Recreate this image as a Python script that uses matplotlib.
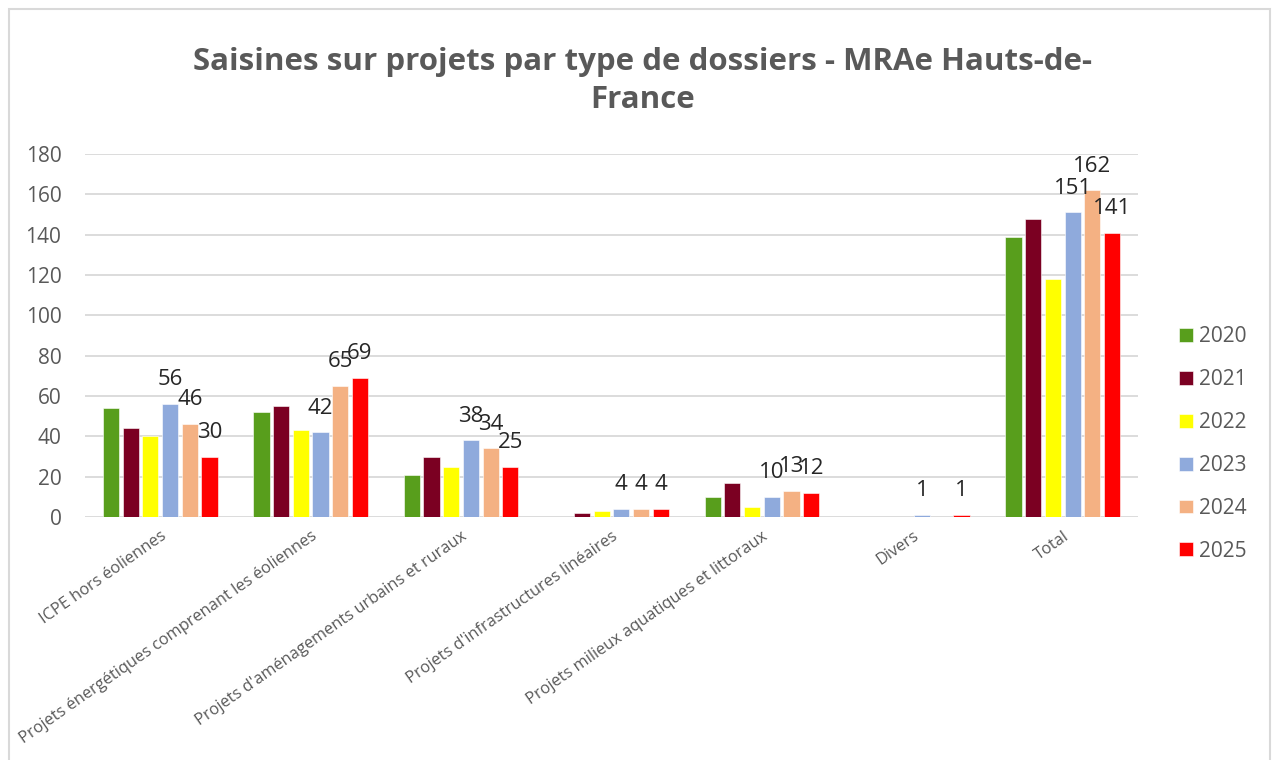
import matplotlib.pyplot as plt
from matplotlib.patches import Rectangle
import numpy as np

plt.rcParams['font.family'] = ['Open Sans', 'DejaVu Sans']

categories = ["ICPE hors éoliennes",
              "Projets énergétiques comprenant les éoliennes",
              "Projets d'aménagements urbains et ruraux",
              "Projets d'infrastructures linéaires",
              "Projets milieux aquatiques et littoraux",
              "Divers",
              "Total"]
years = ["2020", "2021", "2022", "2023", "2024", "2025"]

v2020 = [54, 52, 21, 0, 10, 0, 139]
v2021 = [44, 55, 30, 2, 17, 0, 148]
v2022 = [40, 43, 25, 3, 5, 0, 118]
v2023 = [56, 42, 38, 4, 10, 1, 151]
v2024 = [46, 65, 34, 4, 13, None, 162]
v2025 = [30, 69, 25, 4, 12, 1, 141]
series = [v2020, v2021, v2022, v2023, v2024, v2025]
labelled = ["2023", "2024", "2025"]

colors = ["#589E1C", "#7B0022", "#FFFF00", "#8FAADC", "#F4B183", "#FF0000"]
text_col = "#595959"
grid_col = "#D9D9D9"

fig = plt.figure(figsize=(12.77, 7.6), dpi=100)
fig.patches.append(Rectangle((9 / 1277, -0.05), 1261 / 1277, 1.05 - 9 / 760,
                             transform=fig.transFigure, fill=False,
                             edgecolor=grid_col, linewidth=1.5))
ax = fig.add_axes([85 / 1277, 1 - 517 / 760, (1138 - 85) / 1277, (517 - 154) / 760])

x = np.arange(len(categories))
step = 0.131
width = 0.108
handles = []
for i, (yr, vals) in enumerate(zip(years, series)):
    h = [0 if v is None else v for v in vals]
    pos = x + (i - 2.5) * step
    bars = ax.bar(pos, h, width, color=colors[i], edgecolor='white',
                  linewidth=0.4, zorder=3, label=yr)
    handles.append(bars)
    if yr in labelled:
        for p, v in zip(pos, vals):
            if v is None or v == 0:
                continue
            ax.annotate(str(v), (p, v), xytext=(0, 13.5), textcoords='offset points',
                        ha='center', va='baseline', fontsize=16, color='#262626',
                        zorder=5)

ax.set_xlim(-0.5, len(categories) - 0.5)
ax.set_ylim(0, 180)
ax.set_yticks(range(0, 181, 20))
ax.yaxis.grid(True, color=grid_col, linewidth=1.3, zorder=0)
ax.set_axisbelow(True)
for s in ax.spines.values():
    s.set_visible(False)
ax.tick_params(axis='y', length=0, pad=17, labelsize=15, labelcolor=text_col)
ax.tick_params(axis='x', length=0, pad=8)
ax.set_xticks(x)
ax.set_xticklabels(categories, rotation=35, ha='right', rotation_mode='anchor',
                   fontsize=11.8, color=text_col)

fig.text(0.503, 0.893, "Saisines sur projets par type de dossiers - MRAe Hauts-de-\nFrance",
         ha='center', va='center', fontsize=22.5, fontweight='bold', color=text_col,
         linespacing=1.35)

fig.legend(handles=handles, labels=years, loc='center left',
           bbox_to_anchor=(1179 / 1277, 1 - 444 / 760), frameon=False,
           fontsize=15, labelcolor=text_col, handlelength=0.65, handleheight=0.65,
           handletextpad=0.3, labelspacing=1.05, borderpad=0, borderaxespad=0)

fig.savefig("out.png", dpi=100)
